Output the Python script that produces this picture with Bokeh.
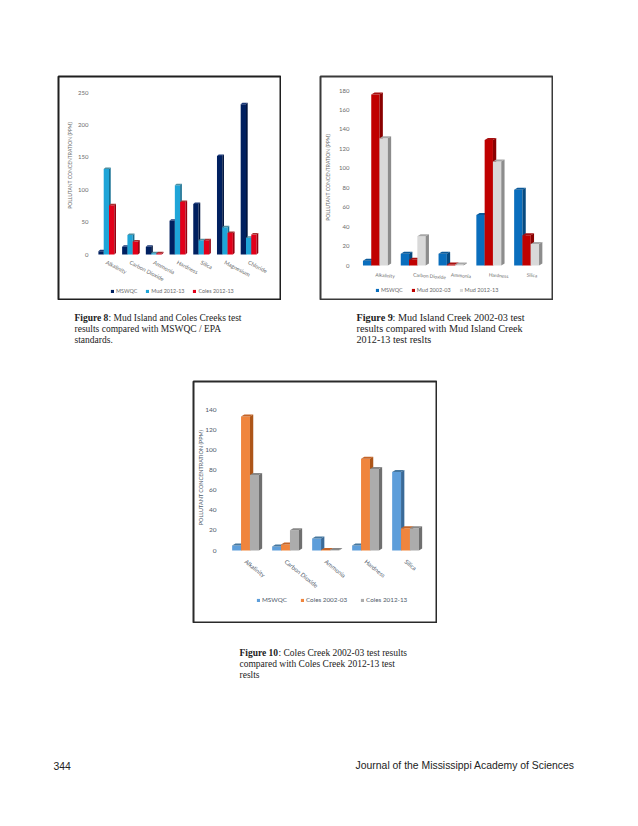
from bokeh.plotting import figure
from bokeh.layouts import column, row
from bokeh.models import Spacer, Legend, LegendItem, FixedTicker, Range1d, Label
from bokeh.core.properties import value
from bokeh.embed import file_html
from bokeh.resources import INLINE
import math

# ---- chart data ----
CATS_8 = ["Alkalinity", "Carbon Dioxide", "Ammonia", "Hardness", "Silica", "Magnesium", "Chloride"]
MSWQC_8 = [5, 12, 12, 52, 78, 152, 232]
MUD_1213_8 = [132, 30, 2, 107, 22, 42, 26]
COLES_1213_8 = [76, 20, 2, 81, 22, 33, 31]

CATS_9 = ["Alkalinity", "Carbon Dioxide", "Ammonia", "Hardness", "Silica"]
MSWQC_9 = [5, 12, 12, 52, 78]
MUD_0203_9 = [176, 6, 1, 129, 31]
MUD_1213_9 = [131, 30, 1, 107, 22]

CATS_10 = ["Alkalinity", "Carbon Dioxide", "Ammonia", "Hardness", "Silica"]
MSWQC_10 = [5, 4, 12, 5, 78]
COLES_0203_10 = [133, 6, 0.5, 91, 22]
COLES_1213_10 = [75, 20, 0.5, 81, 22]

YTICKS_8 = [0, 50, 100, 150, 200, 250]
YTICKS_9 = [0, 20, 40, 60, 80, 100, 120, 140, 160, 180]
YTICKS_10 = [0, 20, 40, 60, 80, 100, 120, 140]
YTITLE = "POLLUTANT CONCENTRATION (PPM)"

FONT = "Lato"


def chart(cats, series, yticks, box, frame, depth, angle, legend_at, sizes, border, title_at):
    """box = page x0,y0,x1,y1 (border); frame = page x0,y0,x1,y1 of the plotting area, y1 at value 0"""
    W, H = box[2] - box[0], box[3] - box[1]
    n = len(cats)
    sx = (frame[2] - frame[0]) / n
    sy = (frame[3] - frame[1]) / yticks[-1]
    inset = 1
    txt = sizes["color"]
    p = figure(width=W, height=H, output_backend="svg", toolbar_location=None,
               x_range=Range1d((box[0] + inset - frame[0]) / sx, n + (box[2] - inset - frame[2]) / sx),
               y_range=Range1d((frame[3] - box[3] + inset) / sy, yticks[-1] + (frame[1] - box[1] - inset) / sy),
               min_border=inset, background_fill_color="white", border_fill_color="white",
               outline_line_color=border[1], outline_line_width=border[0])
    p.grid.visible = False
    dx, dy = depth[0] / sx, depth[1] / sy
    bw = sizes["bar"] / sx
    m = len(series)
    items = []
    for j, (name, vals, c_front, c_top, c_side) in enumerate(series):
        xs0 = [i + 0.5 + (j - m / 2) * bw for i in range(n)]
        xs1 = [x + bw for x in xs0]
        r = p.vbar(x=[x + bw / 2 for x in xs0], top=vals, bottom=0, width=bw,
                   fill_color=c_front, line_color=None)
        p.patches([[a, b, b + dx, a + dx] for a, b in zip(xs0, xs1)],
                  [[v, v, v + dy, v + dy] for v in vals], fill_color=c_top, line_color=None)
        p.patches([[b, b + dx, b + dx, b] for b in xs1],
                  [[0, dy, v + dy, v] for v in vals], fill_color=c_side, line_color=None)
        items.append(LegendItem(label=name, renderers=[r]))

    p.xaxis.fixed_location = 0
    p.yaxis.fixed_location = 0
    p.xaxis.ticker = FixedTicker(ticks=[i + 0.5 for i in range(n)])
    p.xaxis.major_label_overrides = {i + 0.5: c for i, c in enumerate(cats)}
    p.xaxis.major_label_orientation = angle
    p.xaxis.major_label_standoff = sizes["xstand"]
    p.yaxis.ticker = FixedTicker(ticks=yticks)
    p.yaxis.major_label_standoff = sizes["ystand"]
    for ax in (p.xaxis, p.yaxis):
        ax.axis_line_color = None
        ax.major_tick_line_color = None
        ax.major_tick_out = 0
        ax.major_tick_in = 0
        ax.minor_tick_line_color = None
        ax.major_label_text_font = FONT
        ax.major_label_text_color = txt
    p.xaxis.major_label_text_font_size = sizes["xfont"]
    p.yaxis.major_label_text_font_size = sizes["yfont"]

    p.add_layout(Label(x=(title_at[0] - frame[0]) / sx, y=(frame[3] - title_at[1]) / sy, text=YTITLE,
                       angle=math.pi / 2, text_align="center", text_baseline="middle",
                       text_font=FONT, text_font_size=sizes["tfont"], text_color=txt))

    lg = Legend(items=items, orientation="horizontal",
                location=(legend_at[0] - box[0] - inset, box[3] - inset - legend_at[1]),
                background_fill_alpha=0, border_line_color=None, margin=0, padding=0,
                glyph_width=4, glyph_height=4, label_standoff=sizes["lstand"], spacing=sizes["lspace"],
                label_text_font=FONT, label_text_font_size=sizes["lfont"], label_text_color=txt,
                label_height=6, label_text_line_height=1.0)
    p.add_layout(lg, "center")
    return p


fig8 = chart(CATS_8,
             [("MSWQC", MSWQC_8, "#002060", "#1d3a78", "#001540"),
              ("Mud 2012-13", MUD_1213_8, "#1fa5d8", "#4f8f9f", "#156f92"),
              ("Coles 2012-13", COLES_1213_8, "#e2001a", "#a83030", "#97000f")],
             YTICKS_8, (57, 75, 281, 300), (94, 92, 260, 254), (1.7, 1.5), -0.48,
             (110, 294), dict(bar=5.3, xstand=7, ystand=6, xfont="5.6px", yfont="6px", tfont="5px",
                              lstand=2, lspace=8, lfont="5.4px", color="#6a6a6a"),
             (2, "#1f1f1f"), (69, 165))

fig9 = chart(CATS_9,
             [("MSWQC", MSWQC_9, "#0a6ebd", "#0a5a9a", "#064a80"),
              ("Mud 2002-03", MUD_0203_9, "#c00000", "#a81010", "#8a0000"),
              ("Mud 2012-13", MUD_1213_9, "#d9d9d9", "#a8a8a8", "#8c8c8c")],
             YTICKS_9, (319, 75, 553, 300), (356, 90, 545, 265), (3.3, 2), -0.08,
             (375, 293), dict(bar=8.3, xstand=9, ystand=7, xfont="4.8px", yfont="6px", tfont="5px",
                              lstand=2, lspace=8, lfont="5.5px", color="#6a6a6a"),
             (2, "#3a3a3a"), (327, 177))

fig10 = chart(CATS_10,
              [("MSWQC", MSWQC_10, "#5e9eda", "#47789f", "#3a6a98"),
               ("Coles 2002-03", COLES_0203_10, "#f0853d", "#c46428", "#ad5518"),
               ("Coles 2012-13", COLES_1213_10, "#acacac", "#888888", "#6f6f6f")],
              YTICKS_10, (192, 380, 437, 623), (225, 409, 425, 550), (3.3, 2), -0.68,
              (256, 603), dict(bar=8.9, xstand=10, ystand=9, xfont="6px", yfont="6.5px", tfont="5.5px",
                               lstand=2, lspace=13, lfont="6.3px", color="#4f5a6a"),
              (2, "#2a2a2a"), (200, 477))

# ---- page text ----
SERIF = "Liberation Serif"
SANS = "Liberation Sans"


def page_text(y0, y1, entries):
    p = figure(width=630, height=y1 - y0, output_backend="svg", toolbar_location=None,
               x_range=Range1d(0, 630), y_range=Range1d(y1, y0), x_axis_type=None, y_axis_type=None,
               min_border=0, outline_line_color=None, background_fill_color=None, border_fill_color=None)
    p.grid.visible = False
    for x, y, t, font, size, style, align, color in entries:
        p.text(x=[x], y=[y], text=[t], text_font=value(font), text_font_size=size, text_font_style=style,
               text_align=align, text_baseline="middle", text_color=color)
    return p


CAP8 = "9.5px"
CAP9 = "10.2px"
CAP10 = "9.5px"
k = "#222222"
text_mid = page_text(300, 380, [
    (74, 317, "Figure 8", SERIF, CAP8, "bold", "left", k),
    (108, 317, ":  Mud Island and Coles Creeks test", SERIF, CAP8, "normal", "left", k),
    (74, 328, "results compared with MSWQC / EPA", SERIF, CAP8, "normal", "left", k),
    (74, 339, "standards.", SERIF, CAP8, "normal", "left", k),
    (356, 317, "Figure 9", SERIF, CAP9, "bold", "left", k),
    (392, 317, ":  Mud Island Creek 2002-03 test", SERIF, CAP9, "normal", "left", k),
    (356, 328, "results compared with Mud Island Creek", SERIF, CAP9, "normal", "left", k),
    (356, 339, "2012-13 test reslts", SERIF, CAP9, "normal", "left", k),
])
text_low = page_text(623, 790, [
    (239, 652, "Figure 10", SERIF, CAP10, "bold", "left", k),
    (278, 652, ":  Coles Creek 2002-03 test results", SERIF, CAP10, "normal", "left", k),
    (239, 663, "compared with Coles Creek 2012-13 test", SERIF, CAP10, "normal", "left", k),
    (239, 674, "reslts", SERIF, CAP10, "normal", "left", k),
    (53, 765, "344", SANS, "10.4px", "normal", "left", k),
    (574, 765, "Journal of the Mississippi Academy of Sciences", SANS, "10.4px", "normal", "right", k),
])

page = column(
    Spacer(width=630, height=75),
    row(Spacer(width=57, height=225), fig8, Spacer(width=38, height=225), fig9, spacing=0),
    text_mid,
    row(Spacer(width=192, height=243), fig10, spacing=0),
    text_low,
    spacing=0,
)

open("out.html", "w").write(file_html(page, INLINE))
